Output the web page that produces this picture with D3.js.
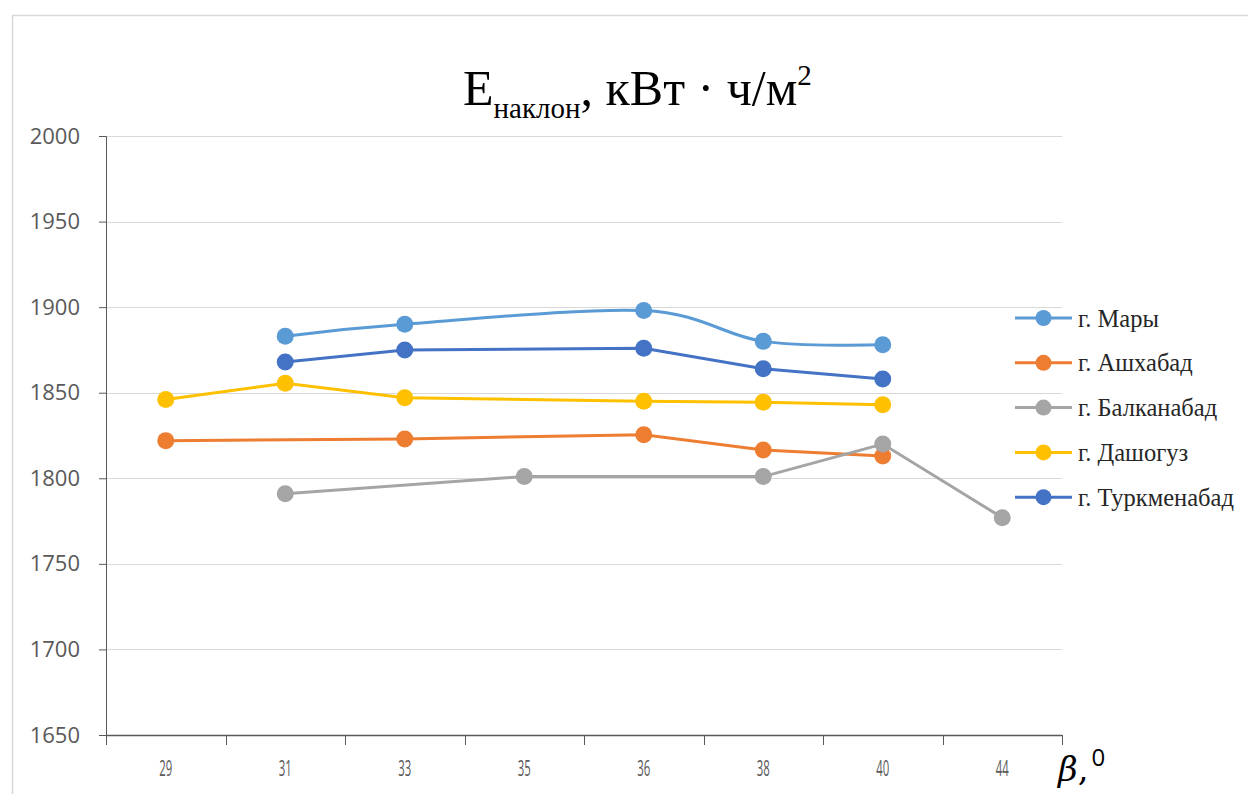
<!DOCTYPE html>
<html>
<head>
<meta charset="utf-8">
<script src="https://cdn.jsdelivr.net/npm/d3@7"></script>
<style>
  body { margin: 0; background: #fff; overflow: hidden; }
  svg { display: block; }
</style>
</head>
<body>
<div id="chart"></div>
<script>
// tilt angles (categorical x axis)
const angles = ["29", "31", "33", "35", "36", "38", "40", "44"];
const yTicks = [1650, 1700, 1750, 1800, 1850, 1900, 1950, 2000];

// E, kWh/m2 per city (null = no value)
const mary        = [null, 1883, 1890, null, 1898, 1880, 1878, null];
const ashkhabad   = [1822, null, 1823, null, 1825.5, 1816.5, 1813, null];
const balkanabad  = [null, 1791, null, 1801, null, 1801, 1820, 1777];
const dashoguz    = [1846, 1855.5, 1847, null, 1845, 1844.5, 1843, null];
const turkmenabad = [null, 1868, 1875, null, 1876, 1864, 1858, null];

const seriesNames = ["г. Мары", "г. Ашхабад", "г. Балканабад", "г. Дашогуз", "г. Туркменабад"];
const seriesValues = [mary, ashkhabad, balkanabad, dashoguz, turkmenabad];
const seriesColors = ["#5b9bd5", "#ed7d31", "#a5a5a5", "#ffc000", "#4472c4"];
const smoothed = [true, false, false, false, false];

const width = 1248, height = 794;
const margin = { top: 136, right: 186, bottom: 59, left: 106 };
const innerWidth = width - margin.left - margin.right;
const innerHeight = height - margin.top - margin.bottom;

const svg = d3.select("#chart").append("svg")
    .attr("width", width)
    .attr("height", height);

// chart frame
svg.append("path")
    .attr("d", `M12.5,${height} V15.5 H${width}`)
    .attr("fill", "none")
    .attr("stroke", "#d9d9d9")
    .attr("stroke-width", 1.5);

const g = svg.append("g")
    .attr("transform", `translate(${margin.left},${margin.top})`);

const x = d3.scaleBand()
    .domain(angles)
    .range([0, innerWidth]);

const y = d3.scaleLinear()
    .domain([1650, 2000])
    .range([innerHeight, 0]);

// gridlines
g.append("g")
    .selectAll("line")
    .data(yTicks.slice(1))
    .join("line")
    .attr("x1", 0)
    .attr("x2", innerWidth)
    .attr("y1", d => Math.round(y(d)) + 0.5)
    .attr("y2", d => Math.round(y(d)) + 0.5)
    .attr("stroke", "#d9d9d9")
    .attr("stroke-width", 1);

// Y axis
const yAxis = g.append("g")
    .call(d3.axisLeft(y).tickValues(yTicks).tickSize(7).tickPadding(19).tickFormat(d3.format("d")));
yAxis.selectAll("path, line").attr("stroke", "#595959");
yAxis.selectAll("text")
    .attr("fill", "#595959")
    .style("font-family", "'Open Sans', sans-serif")
    .style("font-size", "22px");

// X axis (ticks on band boundaries)
const xAxis = g.append("g")
    .attr("transform", `translate(0,${innerHeight})`);
xAxis.append("line")
    .attr("x1", 0).attr("x2", innerWidth)
    .attr("y1", 0.5).attr("y2", 0.5)
    .attr("stroke", "#595959").attr("stroke-width", 1.5);
xAxis.selectAll("line.tick")
    .data(d3.range(angles.length + 1))
    .join("line")
    .attr("class", "tick")
    .attr("x1", i => Math.round(i * x.step()) + 0.5)
    .attr("x2", i => Math.round(i * x.step()) + 0.5)
    .attr("y1", 0).attr("y2", 10)
    .attr("stroke", "#595959");
xAxis.selectAll("text")
    .data(angles)
    .join("text")
    .attr("x", d => x(d) + x.bandwidth() / 2)
    .attr("y", 41)
    .attr("text-anchor", "middle")
    .attr("textLength", 13)
    .attr("lengthAdjust", "spacingAndGlyphs")
    .attr("fill", "#595959")
    .style("font-family", "'Open Sans', sans-serif")
    .style("font-size", "22px")
    .text(d => d);

// lines and markers
const line = d3.line()
    .x(d => x(d.a) + x.bandwidth() / 2)
    .y(d => y(d.v));

seriesValues.forEach((vals, i) => {
    const pts = vals.map((v, j) => ({ a: angles[j], v })).filter(d => d.v !== null);
    const gen = line.curve(smoothed[i] ? d3.curveCatmullRom.alpha(0) : d3.curveLinear);
    g.append("path")
        .datum(pts)
        .attr("d", gen)
        .attr("fill", "none")
        .attr("stroke", seriesColors[i])
        .attr("stroke-width", 3);
    g.selectAll(null)
        .data(pts)
        .join("circle")
        .attr("cx", d => x(d.a) + x.bandwidth() / 2)
        .attr("cy", d => y(d.v))
        .attr("r", 8.5)
        .attr("fill", seriesColors[i]);
});

// legend
const legend = svg.append("g")
    .attr("transform", "translate(1015,318)");
const items = legend.selectAll("g")
    .data(seriesNames)
    .join("g")
    .attr("transform", (d, i) => `translate(0,${i * 44.8})`);
items.append("line")
    .attr("x1", 0).attr("x2", 57)
    .attr("stroke", (d, i) => seriesColors[i])
    .attr("stroke-width", 3);
items.append("circle")
    .attr("cx", 28.5).attr("r", 8)
    .attr("fill", (d, i) => seriesColors[i]);
items.append("text")
    .attr("x", 63).attr("dy", "0.35em")
    .style("font-family", "'Liberation Serif', serif")
    .style("font-size", "24.5px")
    .attr("fill", "#262626")
    .text(d => d);

// title
const title = svg.append("text")
    .attr("x", 463).attr("y", 105)
    .style("font-family", "'Liberation Serif', serif")
    .style("font-size", "50px")
    .attr("fill", "#000");
title.append("tspan").text("E");
title.append("tspan").attr("dy", 13).style("font-size", "29px").text("наклон");
title.append("tspan").attr("dy", -13).text(", кВт · ч/м");
title.append("tspan").attr("dy", -20).style("font-size", "29px").text("2");

// x axis name
const xName = svg.append("text")
    .attr("x", 1058).attr("y", 781)
    .style("font-family", "'DejaVu Serif', serif")
    .style("font-size", "34px")
    .attr("fill", "#000");
xName.append("tspan").style("font-style", "italic").text("β");
xName.append("tspan").text(",");
xName.append("tspan").attr("dy", -15).attr("dx", 3)
    .style("font-family", "'Open Sans', sans-serif")
    .style("font-size", "24px").text("0");
</script>
</body>
</html>
